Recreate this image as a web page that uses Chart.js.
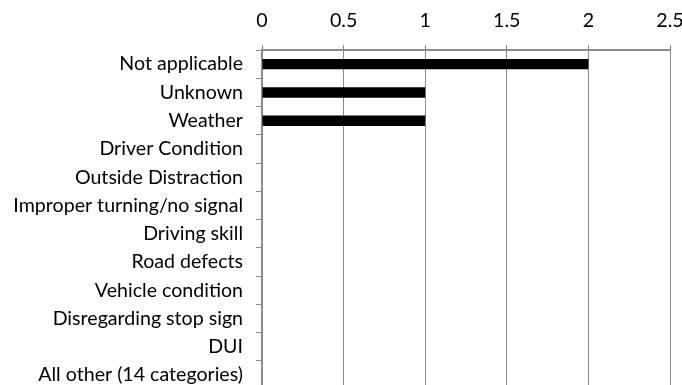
<!DOCTYPE html>
<html>
<head>
<meta charset="utf-8">
<script src="https://cdn.jsdelivr.net/npm/chart.js@4"></script>
<style>
  html, body { margin: 0; padding: 0; background: #fff; overflow: hidden; }
</style>
</head>
<body>
<canvas id="factorChart" width="682" height="414"></canvas>
<script>
// Contributing factors, top to bottom
const factors = [
    "Not applicable",
    "Unknown",
    "Weather",
    "Driver Condition",
    "Outside Distraction",
    "Improper turning/no signal",
    "Driving skill",
    "Road defects",
    "Vehicle condition",
    "Disregarding stop sign",
    "DUI",
    "All other (14 categories)"
];

const counts = [2, 1, 1, 0, 0, 0, 0, 0, 0, 0, 0, 0];

const axisMax = 2.5;
const axisStep = 0.5;

const gridGray = "#8c8c8c";
const labelFont = { family: "Lato", size: 19.6 };

new Chart(document.getElementById("factorChart"), {
    type: "bar",
    data: {
        labels: factors,
        datasets: [{
            data: counts,
            backgroundColor: "#000",
            borderWidth: 0,
            barPercentage: 0.37,
            categoryPercentage: 1
        }]
    },
    options: {
        indexAxis: "y",
        responsive: false,
        animation: false,
        layout: { padding: { left: 0, right: 12, top: 0, bottom: 2 } },
        plugins: {
            legend: { display: false },
            tooltip: { enabled: false }
        },
        scales: {
            x: {
                position: "top",
                min: 0,
                max: axisMax,
                ticks: {
                    stepSize: axisStep,
                    color: "#000",
                    padding: 13,
                    font: labelFont,
                    callback: v => String(v)
                },
                grid: {
                    color: gridGray,
                    lineWidth: 1,
                    tickLength: 5
                },
                border: { color: gridGray, width: 2 },
                afterFit: scale => {
                    scale.height = 50;
                    // let the last label hang close to the edge
                    scale.paddingRight = 12;
                }
            },
            y: {
                ticks: {
                    color: "#000",
                    padding: 13,
                    autoSkip: false,
                    font: labelFont
                },
                grid: {
                    offset: true,
                    drawOnChartArea: false,
                    color: gridGray,
                    tickLength: 6
                },
                border: { color: gridGray, width: 2 },
                afterFit: scale => { scale.width = 262; }
            }
        }
    }
});
</script>
</body>
</html>
